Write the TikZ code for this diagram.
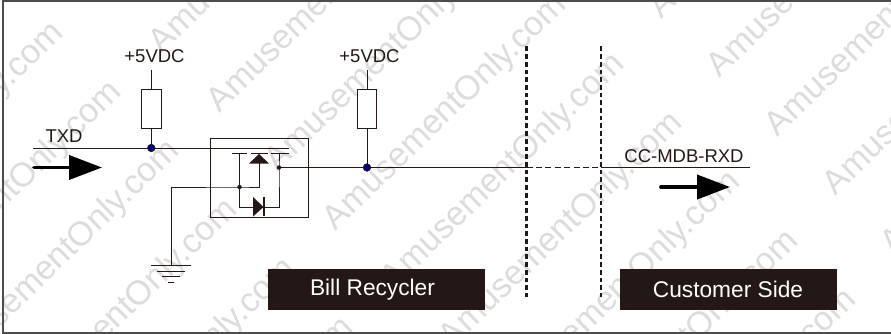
\documentclass[tikz,border=0pt]{standalone}
\usepackage{fontspec}
\setmainfont{Liberation Sans}
\usepackage{xcolor}
\usetikzlibrary{arrows.meta}
\definecolor{wirecol}{HTML}{231815}
\definecolor{markcol}{HTML}{DCDCDC}
\definecolor{framecol}{HTML}{4D4D4D}
\definecolor{dotcol}{HTML}{00007F}
\tikzset{
  wire/.style={draw=wirecol, line width=0.9pt},
  res/.style={draw=wirecol, line width=0.9pt, fill=white, minimum width=19.5pt, minimum height=39pt, inner sep=0pt},
  joint/.style={circle, fill=dotcol, draw=wirecol, line width=0.7pt, minimum size=7.5pt, inner sep=0pt},
  smalljoint/.style={circle, fill=wirecol, minimum size=4.5pt, inner sep=0pt},
  lab/.style={text=wirecol, anchor=base, inner sep=0pt, font=\fontsize{18.5}{20}\selectfont},
  tagbox/.style={fill=wirecol, text=white, minimum width=217pt, minimum height=41pt, inner sep=0pt, font=\fontsize{22.7}{25}\selectfont},
  bigarrow/.style={draw=black, line width=3.8pt, line cap=round, -{Triangle[length=33pt,width=24pt]}},
  border/.style={draw=wirecol, line width=2.6pt, dash pattern=on 4.7pt off 3pt},
  watermark/.style={text=markcol, rotate=44, anchor=base east, inner sep=0pt, font=\fontsize{34}{36}\selectfont}
}
\begin{document}
\begin{tikzpicture}[x=1pt,y=-1pt]
  \useasboundingbox (0,0) rectangle (891,334);
  \begin{scope}
    \clip (0,0) rectangle (891,334);
    \foreach \k in {0,...,5} {
      \node[watermark] (marka\k) at (65+58*\k,35+59*\k) {AmusementOnly.com};
    };
    \foreach \k in {-4,...,5} {
      \node[watermark] (markb\k) at (568+58*\k,7+59*\k) {AmusementOnly.com};
    };
    \foreach \k in {-3,...,1} {
      \node[watermark] (markc\k) at (1068+58*\k,-28+59*\k) {AmusementOnly.com};
    };
  \end{scope}
  \draw[framecol, line width=1.6pt] (3,1) rectangle (893,333);

  % pull-ups
  \node[res] (resa) at (151.3,109) {};
  \node[res] (resb) at (367,109) {};
  \node[lab] (vcca) at (154.5,63) {+5VDC};
  \node[lab] (vccb) at (369.5,63) {+5VDC};
  \coordinate (topa) at (151.3,70);
  \coordinate (topb) at (367,70);
  \coordinate (joina) at (151.3,148);
  \coordinate (joinb) at (367,167.5);
  \draw[wire] (topa) -- (resa.north);
  \draw[wire] (resa.south) -- (joina);
  \draw[wire] (topb) -- (resb.north);
  \draw[wire] (resb.south) -- (joinb);

  % box and transistor
  \draw[wire] (210,138) rectangle (308,217);
  \coordinate (txdin) at (33,148);
  \coordinate (gateend) at (289,148);
  \draw[wire] (txdin) -- (gateend);
  \draw[wirecol, line width=1.3pt] (232,153.5) -- (247,153.5);
  \draw[wirecol, line width=1.3pt] (251,153.5) -- (268,153.5);
  \draw[wirecol, line width=1.3pt] (271,153.5) -- (289,153.5);
  \fill[wirecol] (259,154) -- (269,163.5) -- (249,163.5) -- cycle;
  \coordinate (gnd) at (171,265);
  \coordinate (srcjoin) at (239.5,187);
  \coordinate (drainjoin) at (279,167.5);
  \draw[wire] (gnd) -- (171,187) -- (srcjoin) -- (259,187) -- (259,163);
  \draw[wire] (239.5,153.5) -- (srcjoin) -- (239.5,207) -- (279,207) -- (drainjoin) -- (279,153.5);
  \fill[wirecol] (253,197) -- (263.5,207) -- (253,216.5) -- cycle;
  \draw[wirecol, line width=1.3pt] (264,197) -- (264,216);
  \node[smalljoint] (srcdot) at (srcjoin) {};
  \node[smalljoint] (draindot) at (drainjoin) {};

  % output line
  \coordinate (crossa) at (526.5,167.5);
  \coordinate (crossb) at (601,167.5);
  \coordinate (rxdend) at (750,167.5);
  \draw[wire] (drainjoin) -- (crossa);
  \draw[wire, dash pattern=on 6pt off 3.4pt] (crossa) -- (crossb);
  \draw[wire] (crossb) -- (rxdend);
  \node[joint] (dota) at (joina) {};
  \node[joint] (dotb) at (joinb) {};

  % ground
  \draw[wire] (151,265) -- (191,265);
  \draw[wire] (157,271) -- (185,271);
  \draw[wire] (162,276.5) -- (180,276.5);
  \draw[wire] (168,282) -- (174,282);

  % side borders
  \coordinate (bordatop) at (526.5,46.5);
  \coordinate (bordabot) at (526.5,297);
  \coordinate (bordbtop) at (601,46.5);
  \coordinate (bordbbot) at (601,297);
  \draw[border] (bordatop) -- (bordabot);
  \draw[border] (bordbtop) -- (bordbbot);

  % signals
  \node[lab] (txd) at (64,142.5) {TXD};
  \node[lab] (rxd) at (684,162) {CC-MDB-RXD};
  \coordinate (arrowa) at (34,167.5);
  \coordinate (arrowb) at (102,167.5);
  \coordinate (arrowc) at (661,187);
  \coordinate (arrowd) at (730,187);
  \draw[bigarrow] (arrowa) -- (arrowb);
  \draw[bigarrow] (arrowc) -- (arrowd);

  \node[tagbox] (recycler) at (376.5,289.5) {\hspace*{-8pt}Bill Recycler};
  \node[tagbox] (customer) at (728,289.5) {Customer Side};
\end{tikzpicture}
\end{document}
